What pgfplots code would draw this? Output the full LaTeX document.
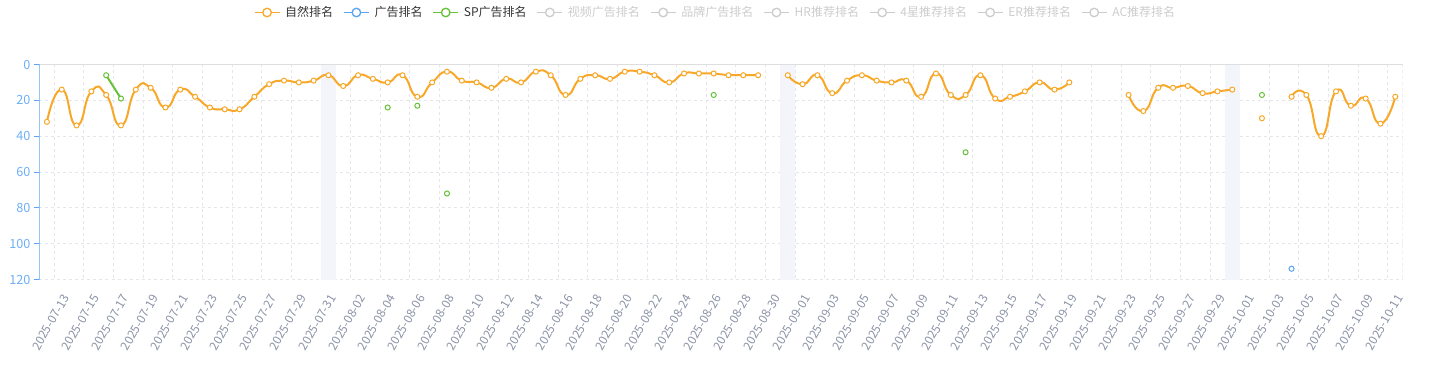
\documentclass[border=0pt]{standalone}
\usepackage{pgfplots}
\pgfplotsset{compat=1.18}
\usepackage{pgfplotstable}
\usepackage{fontspec}
\setmainfont{Noto Sans CJK SC}
\definecolor{orangeC}{RGB}{248,168,40}
\definecolor{greenC}{RGB}{103,194,58}
\definecolor{blueC}{RGB}{90,164,240}
\definecolor{gridC}{RGB}{228,230,236}
\definecolor{topC}{RGB}{222,222,222}
\definecolor{yaxC}{RGB}{92,165,245}
\definecolor{ylabC}{RGB}{110,175,245}
\definecolor{xlabC}{RGB}{139,147,166}
\definecolor{bandC}{RGB}{243,245,250}
\definecolor{textC}{RGB}{51,51,51}
\definecolor{inactC}{RGB}{204,204,204}

% 自然排名, split at the missing days
\pgfplotstableread{
i v
0 32
1 14
2 34
3 15
4 17
5 34
6 14
7 13
8 24
9 14
10 18
11 24
12 25
13 25
14 18
15 11
16 9
17 10
18 9
19 6
20 12
21 6
22 8
23 10
24 6
25 18
26 10
27 4
28 9
29 10
30 13
31 8
32 10
33 4
34 6
35 17
36 8
37 6
38 8
39 4
40 4
41 6
42 10
43 5
44 5
45 5
46 6
47 6
48 6
}\natA
\pgfplotstableread{
i v
50 6
51 11
52 6
53 16
54 9
55 6
56 9
57 10
58 9
59 18
60 5
61 17
62 17
63 6
64 19
65 18
66 15
67 10
68 14
69 10
}\natB
\pgfplotstableread{
i v
73 17
74 26
75 13
76 13
77 12
78 16
79 15
80 14
}\natC
\pgfplotstableread{
i v
82 30
}\natD
\pgfplotstableread{
i v
84 18
85 17
86 40
87 15
88 23
89 19
90 33
91 18
}\natE

% SP广告排名
\pgfplotstableread{
i v
4 6
5 19
6 nan
23 24
24 nan
25 23
26 nan
27 72
28 nan
45 17
46 nan
62 49
63 nan
82 17
}\sprank

% 广告排名
\pgfplotstableread{
i v
84 114
}\adrank

\begin{document}
\begin{tikzpicture}
\path[use as bounding box] (0,0) rectangle (1077pt,286.5pt);
\begin{axis}[
  at={(29.625pt,76.875pt)}, anchor=south west,
  scale only axis, width=1022.4pt, height=161.25pt,
  xmin=-0.5, xmax=91.5, ymin=0, ymax=120, y dir=reverse,
  axis line style={draw=none},
  unbounded coords=jump,
  xtick={0,2,...,90},
  xticklabels={2025-07-13,2025-07-15,2025-07-17,2025-07-19,2025-07-21,2025-07-23,2025-07-25,2025-07-27,2025-07-29,2025-07-31,
2025-08-02,2025-08-04,2025-08-06,2025-08-08,2025-08-10,2025-08-12,2025-08-14,2025-08-16,2025-08-18,2025-08-20,2025-08-22,2025-08-24,2025-08-26,2025-08-28,2025-08-30,
2025-09-01,2025-09-03,2025-09-05,2025-09-07,2025-09-09,2025-09-11,2025-09-13,2025-09-15,2025-09-17,2025-09-19,2025-09-21,2025-09-23,2025-09-25,2025-09-27,2025-09-29,
2025-10-01,2025-10-03,2025-10-05,2025-10-07,2025-10-09,2025-10-11},
  minor xtick={0.5,2.5,...,90.5},
  xminorgrids,
  minor grid style={gridC, dash pattern=on 2.25pt off 2.25pt, line width=0.75pt},
  ytick={0,20,...,120},
  ymajorgrids,
  major grid style={gridC, dash pattern=on 2.25pt off 2.25pt, line width=0.75pt},
  tick align=outside,
  ytick pos=left, xtick pos=bottom,
  major tick length=3.75pt, minor tick length=0pt,
  xtick style={draw=none},
  ytick style={draw=yaxC, line width=0.75pt},
  /pgf/number format/assume math mode=true,
  yticklabel style={text=ylabC, font=\fontsize{9.5pt}{11pt}\selectfont, inner sep=0pt, anchor=east, xshift=-2.8pt},
  xticklabel style={text=xlabC, font=\fontsize{9pt}{11pt}\selectfont, inner sep=0pt, xshift=14.5pt, yshift=-8.4pt, rotate=60, anchor=east},
  legend style={at={(axis description cs:0.4952,1.2419)}, anchor=center, draw=none, fill=none,
    font=\fontsize{9pt}{11pt}\selectfont, nodes={inner sep=0pt},
    /tikz/every odd column/.append style={column sep=3.75pt},
    /tikz/every even column/.append style={column sep=7.5pt}},
  legend columns=-1,
  legend image code/.code={\draw[#1, line width=1pt] (0pt,0pt) -- (18.75pt,0pt);
    \draw[#1, line width=1pt, fill=white] (9.375pt,0pt) circle (3.2pt);},
]
\addlegendimage{draw=orangeC}\addlegendentry{\textcolor{textC}{自然排名}}
\addlegendimage{draw=blueC}\addlegendentry{\textcolor{textC}{广告排名}}
\addlegendimage{draw=greenC}\addlegendentry{\textcolor{textC}{SP广告排名}}
\addlegendimage{draw=inactC}\addlegendentry{\textcolor{inactC}{视频广告排名}}
\addlegendimage{draw=inactC}\addlegendentry{\textcolor{inactC}{品牌广告排名}}
\addlegendimage{draw=inactC}\addlegendentry{\textcolor{inactC}{HR推荐排名}}
\addlegendimage{draw=inactC}\addlegendentry{\textcolor{inactC}{4星推荐排名}}
\addlegendimage{draw=inactC}\addlegendentry{\textcolor{inactC}{ER推荐排名}}
\addlegendimage{draw=inactC}\addlegendentry{\textcolor{inactC}{AC推荐排名}}

\fill[bandC] (axis cs:18.5,0) rectangle (axis cs:19.5,120);
\fill[bandC] (axis cs:49.5,0) rectangle (axis cs:50.5,120);
\fill[bandC] (axis cs:79.5,0) rectangle (axis cs:80.5,120);
\draw[gridC, dash pattern=on 2.25pt off 2.25pt, line width=0.75pt] (axis cs:91.5,0) -- (axis cs:91.5,120);
\draw[topC, line width=0.75pt] (axis cs:-0.5,0) -- (axis cs:91.5,0);
\draw[yaxC, line width=0.75pt] (axis cs:-0.5,0) -- (axis cs:-0.5,120);

\pgfplotsset{natstyle/.style={forget plot, orangeC, line width=1.5pt, smooth, tension=1, mark=*, mark size=1.9pt,
  mark options={fill=white, draw=orangeC, line width=0.75pt}}}
\addplot[natstyle] table[x=i, y=v] {\natA};
\addplot[natstyle] table[x=i, y=v] {\natB};
\addplot[natstyle] table[x=i, y=v] {\natC};
\addplot[natstyle] table[x=i, y=v] {\natD};
\addplot[natstyle] table[x=i, y=v] {\natE};
\addplot[forget plot, greenC, line width=1.5pt, mark=*, mark size=1.9pt,
  mark options={fill=white, draw=greenC, line width=0.75pt}] table[x=i, y=v] {\sprank};
\addplot[forget plot, only marks, blueC, mark=*, mark size=1.9pt,
  mark options={fill=white, draw=blueC, line width=0.75pt}] table[x=i, y=v] {\adrank};
\end{axis}
\end{tikzpicture}
\end{document}
